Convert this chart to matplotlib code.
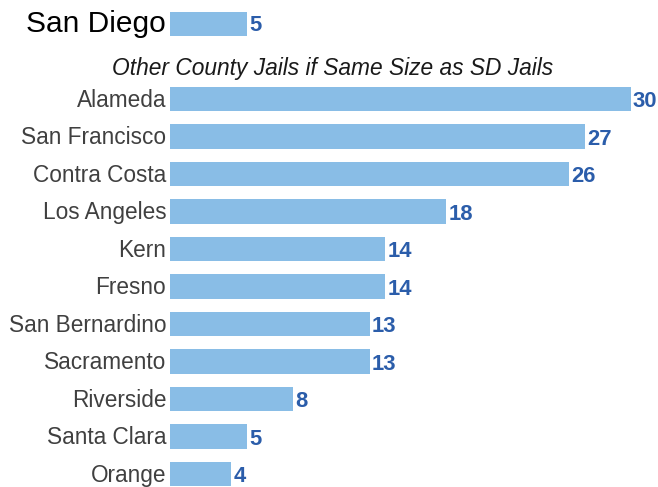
import matplotlib.pyplot as plt

plt.rcParams['font.family'] = ['Liberation Sans', 'DejaVu Sans']

# San Diego reference bar
sd_label = "San Diego"
sd_value = 5

# other county jails, scaled to the size of the SD jails
counties = ["Alameda", "San Francisco", "Contra Costa", "Los Angeles", "Kern",
            "Fresno", "San Bernardino", "Sacramento", "Riverside", "Santa Clara",
            "Orange"]
values = [30, 27, 26, 18, 14, 14, 13, 13, 8, 5, 4]

subtitle = "Other County Jails if Same Size as SD Jails"

bar_color = "#89BDE6"
value_color = "#2B5DAA"
label_color = "#404040"
xmax = 31.5

fig = plt.figure(figsize=(6.58, 4.87), dpi=100)
ax_top = fig.add_axes([0.2584, 0.9122, 0.735, 0.077])
ax = fig.add_axes([0.2584, 0.0, 0.735, 0.835])

# top panel: San Diego
ax_top.barh([0], [sd_value], height=0.65, color=bar_color)
ax_top.set_xlim(0, xmax)
ax_top.set_ylim(0.5, -0.5)
ax_top.text(sd_value + 0.15, 0.05, str(sd_value), va="center", ha="left",
            color=value_color, fontsize=15.8, fontweight="bold")
ax_top.text(-0.25, 0, sd_label, va="center", ha="right", fontsize=21.5,
            color="black")

# lower panel: other counties
pos = list(range(len(counties)))
ax.barh(pos, values, height=0.65, color=bar_color)
ax.set_xlim(0, xmax)
ax.set_ylim(10.35, -0.5)
for p, name, v in zip(pos, counties, values):
    ax.text(-0.25, p + 0.03, name, va="center", ha="right", fontsize=16.3,
            color=label_color)
    ax.text(v + 0.15, p + 0.07, str(v), va="center", ha="left",
            color=value_color, fontsize=15.8, fontweight="bold")

for a in (ax_top, ax):
    a.set_xticks([])
    a.set_yticks([])
    for s in a.spines.values():
        s.set_visible(False)

fig.text(0.505, 1 - 69 / 487, subtitle, ha="center", va="center",
         fontsize=16.4, style="italic", color="#1a1a1a")

fig.savefig("out.png", dpi=100)
